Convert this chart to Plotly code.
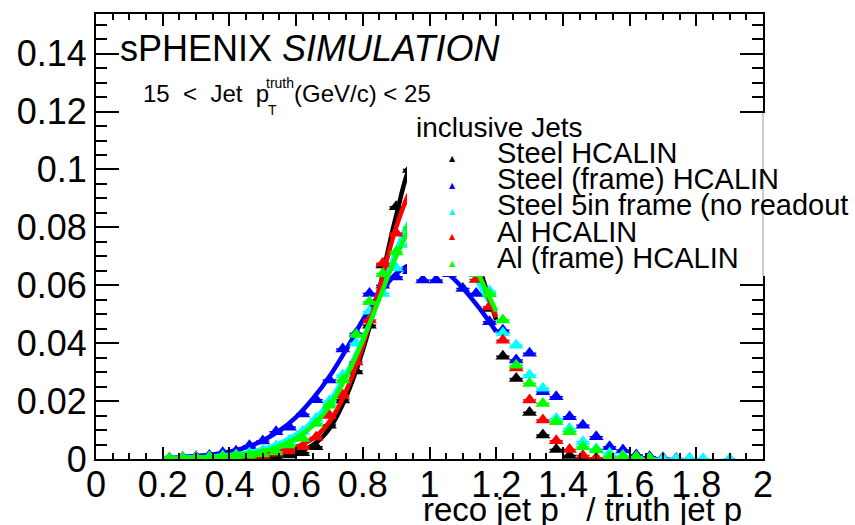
import plotly.graph_objects as go

# ---------------- data ----------------
bin_centers = [0.22, 0.26, 0.30, 0.34, 0.38, 0.42, 0.46, 0.50, 0.54, 0.58,
               0.62, 0.66, 0.70, 0.74, 0.78, 0.82, 0.86, 0.90, 0.94, 0.98,
               1.02, 1.06, 1.10, 1.14, 1.18, 1.22, 1.26, 1.30, 1.34, 1.38,
               1.42, 1.46, 1.50, 1.54, 1.58, 1.62, 1.66, 1.70, 1.74, 1.78,
               1.82, 1.86, 1.90]

steel = [None, None, 0.0001, 0.0001, 0.0002, 0.0002, 0.0004, 0.0006, 0.0008, 0.0014,
         0.0022, 0.0042, 0.0117, 0.0204, 0.0304, 0.0462, 0.0670, 0.0871, 0.1000, 0.1080,
         0.1060, 0.0980, 0.0860, 0.0720, 0.0520, 0.0355, 0.0278, 0.0161, 0.0083, 0.0033,
         0.0012, 0.0004, 0.0001, None, None, None, None, None, None, None,
         None, None, None]

steel_frame = [0.0003, 0.0005, 0.0008, 0.0012, 0.0022, 0.0027, 0.0046, 0.0062, 0.0094, 0.0110,
               0.0155, 0.0205, 0.0273, 0.0380, 0.0434, 0.0572, 0.0600, 0.0629, 0.0650, 0.0618,
               0.0618, 0.0640, 0.0589, 0.0572, 0.0474, 0.0445, 0.0342, 0.0365, 0.0232, 0.0215,
               0.0146, 0.0117, 0.0077, 0.0042, 0.0031, 0.0014, 0.0008, 0.0004, 0.0002, 0.0001,
               None, None, None]

steel_5in = [0.0003, 0.0004, 0.0005, 0.0007, 0.0010, 0.0014, 0.0020, 0.0030, 0.0045, 0.0065,
             0.0095, 0.0140, 0.0200, 0.0290, 0.0400, 0.0510, 0.0572, 0.0660, 0.0740, 0.0790,
             0.0800, 0.0770, 0.0700, 0.0620, 0.0580, 0.0435, 0.0393, 0.0290, 0.0244, 0.0140,
             0.0105, 0.0060, 0.0035, 0.0020, 0.0012, 0.0006, 0.0003, 0.0002, 0.0001, 0.0002,
             0.0001, None, 0.0001]

al = [0.0001, 0.0001, 0.0002, 0.0002, 0.0003, 0.0004, 0.0008, 0.0012, 0.0020, 0.0028,
      0.0042, 0.0075, 0.0150, 0.0220, 0.0335, 0.0480, 0.0676, 0.0780, 0.0890, 0.0960,
      0.0970, 0.0900, 0.0800, 0.0620, 0.0526, 0.0410, 0.0314, 0.0204, 0.0135, 0.0063,
      0.0033, 0.0012, 0.0004, 0.0001, None, None, None, None, None, None,
      None, None, None]

al_frame = [0.0002, 0.0003, 0.0004, 0.0005, 0.0008, 0.0010, 0.0013, 0.0018, 0.0025, 0.0048,
            0.0071, 0.0123, 0.0186, 0.0273, 0.0430, 0.0543, 0.0640, 0.0715, 0.0800, 0.0850,
            0.0850, 0.0800, 0.0730, 0.0640, 0.0570, 0.0480, 0.0324, 0.0261, 0.0192, 0.0129,
            0.0094, 0.0042, 0.0031, 0.0008, 0.0008, 0.0008, 0.0002, None, None, None,
            None, None, None]

# fit curves
fit_x = [0.20, 0.25, 0.30, 0.35, 0.40, 0.45, 0.50, 0.55, 0.60, 0.65, 0.70,
         0.75, 0.80, 0.85, 0.90, 0.95, 1.00, 1.05, 1.10, 1.15, 1.20]
fit_steel = [0.0000, 0.0001, 0.0001, 0.0002, 0.0003, 0.0005, 0.0008, 0.0013, 0.0024, 0.0048, 0.0105,
             0.0215, 0.0375, 0.0590, 0.0840, 0.1030, 0.1080, 0.1000, 0.0850, 0.0660, 0.0480]
fit_steel_frame = [0.0003, 0.0006, 0.0010, 0.0016, 0.0025, 0.0040, 0.0064, 0.0098, 0.0145, 0.0208, 0.0285,
                   0.0378, 0.0480, 0.0570, 0.0640, 0.0675, 0.0675, 0.0645, 0.0590, 0.0520, 0.0440]
fit_steel_5in = [0.0002, 0.0004, 0.0006, 0.0009, 0.0014, 0.0022, 0.0034, 0.0054, 0.0085, 0.0130, 0.0200,
                 0.0295, 0.0415, 0.0560, 0.0720, 0.0840, 0.0880, 0.0840, 0.0730, 0.0600, 0.0500]
fit_al = [0.0001, 0.0002, 0.0003, 0.0004, 0.0006, 0.0010, 0.0016, 0.0026, 0.0042, 0.0070, 0.0128,
          0.0235, 0.0390, 0.0590, 0.0800, 0.0940, 0.0990, 0.0940, 0.0810, 0.0640, 0.0490]
fit_al_frame = [0.0002, 0.0003, 0.0005, 0.0007, 0.0011, 0.0017, 0.0027, 0.0044, 0.0072, 0.0115, 0.0183,
                0.0283, 0.0410, 0.0555, 0.0700, 0.0810, 0.0860, 0.0840, 0.0750, 0.0630, 0.0510]

series_names = ["Steel HCALIN", "Steel (frame) HCALIN", "Steel 5in frame (no readout",
                "Al HCALIN", "Al (frame) HCALIN"]
series_colors = ["#000000", "#0000ff", "#00ffff", "#ff0000", "#00ff00"]
series_values = [steel, steel_frame, steel_5in, al, al_frame]
fit_values = [fit_steel, fit_steel_frame, fit_steel_5in, fit_al, fit_al_frame]
bin_half_width = 0.02

# ---------------- figure ----------------
W, H = 855, 525
L, R, T, B = 96, 763, 14, 459          # plot frame in pixels
FONT = "Liberation Sans, Arial, Helvetica, sans-serif"
NB = "\u00a0"


def px(x):
    return (x - L) / (R - L)


def py(y):
    return (B - y) / (B - T)


fig = go.Figure()
for name, col, vals, fvals in zip(series_names, series_colors, series_values, fit_values):
    fig.add_trace(go.Scatter(
        x=bin_centers, y=vals, mode="markers", name=name, showlegend=False,
        marker=dict(symbol="triangle-up", size=13, color=col, line=dict(width=0)),
        error_x=dict(type="constant", value=bin_half_width, color=col, thickness=1.5, width=0),
    ))
    fig.add_trace(go.Scatter(
        x=fit_x, y=fvals, mode="lines", showlegend=False,
        line=dict(color=col, width=4.5, shape="spline", smoothing=1.0),
    ))

axis_common = dict(
    showline=True, linecolor="black", linewidth=2, mirror="allticks",
    ticks="inside", tickcolor="black", tickwidth=2,
    showgrid=False, zeroline=False,
    tickfont=dict(family=FONT, size=36, color="black"),
)
fig.update_xaxes(range=[0, 2], dtick=0.2, tick0=0, ticklen=12, ticklabelstandoff=-7,
                 minor=dict(ticks="inside", dtick=0.05, ticklen=6, tickcolor="black", tickwidth=2, showgrid=False),
                 **axis_common)
fig.update_yaxes(range=[0, 0.1537], dtick=0.02, tick0=0, ticklen=23,
                 minor=dict(ticks="inside", dtick=0.005, ticklen=11, tickcolor="black", tickwidth=2, showgrid=False),
                 **axis_common)

shapes = [
    # legend box (white, covers data)
    dict(type="rect", xref="paper", yref="paper", x0=px(407), x1=px(860), y0=py(276), y1=py(113),
         fillcolor="white", line=dict(width=0), layer="above"),
    dict(type="line", xref="paper", yref="paper", x0=1, x1=1, y0=py(276), y1=py(113),
         line=dict(color="#9a9a9a", width=1), layer="above"),
]

ann = []
ann.append(dict(text="sPHENIX <i>SIMULATION</i>", x=px(118), y=py(49), xanchor="left", yanchor="middle",
                font=dict(family=FONT, size=36, color="black")))
ann.append(dict(text="15" + NB * 2 + "<" + NB * 2 + "Jet" + NB * 2 + "p", x=px(141), y=py(93),
                xanchor="left", yanchor="middle", font=dict(family=FONT, size=24, color="black")))
ann.append(dict(text="truth", x=px(264), y=py(83), xanchor="left", yanchor="middle",
                font=dict(family=FONT, size=14, color="black")))
ann.append(dict(text="T", x=px(266), y=py(110), xanchor="left", yanchor="middle",
                font=dict(family=FONT, size=14, color="black")))
ann.append(dict(text="(GeV/c)" + NB + "<" + NB + "25", x=px(292), y=py(93), xanchor="left", yanchor="middle",
                font=dict(family=FONT, size=24, color="black")))
ann.append(dict(text="inclusive Jets", x=px(414), y=py(127), xanchor="left", yanchor="middle",
                font=dict(family=FONT, size=28, color="black")))
text_y = [153, 179.5, 205.5, 232, 258]
mark_y = [158, 185, 211, 237, 263]
for i, (name, col) in enumerate(zip(series_names, series_colors)):
    ann.append(dict(text=name, x=px(495), y=py(text_y[i]), xanchor="left", yanchor="middle",
                    font=dict(family=FONT, size=29, color="black")))
    ann.append(dict(text="▲", x=px(452), y=py(mark_y[i]), xanchor="center", yanchor="middle",
                    font=dict(family="DejaVu Sans", size=8, color=col)))
ann.append(dict(text="reco jet p_ / truth jet p_", x=1.0, y=py(509), xanchor="right", yanchor="middle",
                font=dict(family=FONT, size=33, color="black")))
for a in ann:
    a.update(xref="paper", yref="paper", showarrow=False)

fig.update_layout(
    width=W, height=H,
    margin=dict(l=L, r=W - R, t=T, b=H - B, pad=0),
    paper_bgcolor="white", plot_bgcolor="white",
    shapes=shapes, annotations=ann, showlegend=False,
)

fig.write_html("out.html")
